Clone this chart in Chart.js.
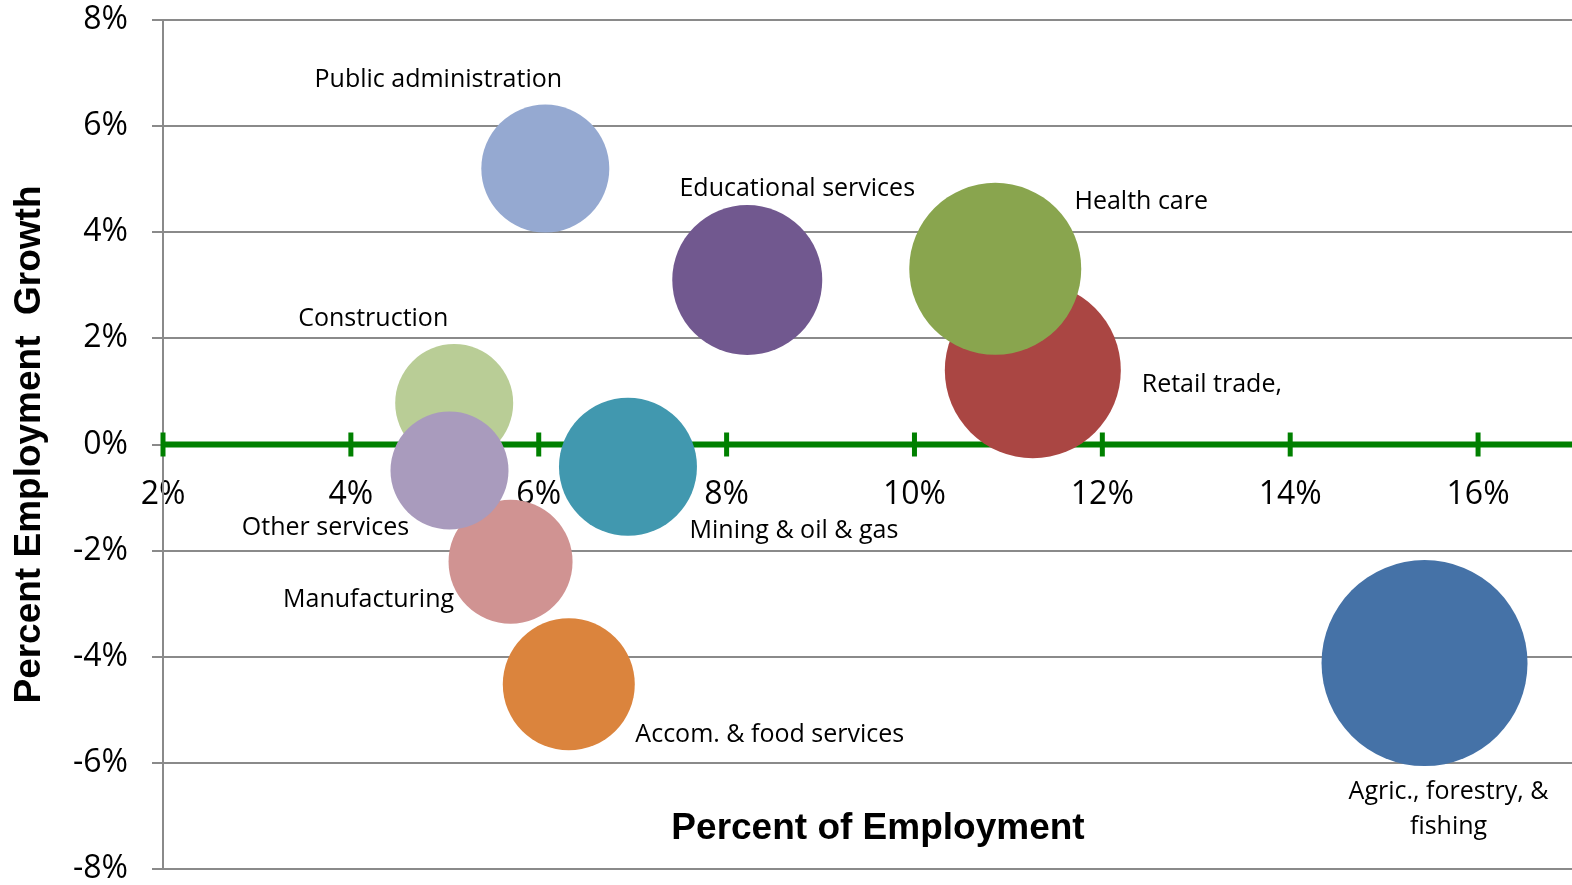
<!DOCTYPE html>
<html>
<head>
<meta charset="utf-8">
<script src="https://cdn.jsdelivr.net/npm/chart.js@4.4.1/dist/chart.umd.min.js"></script>
<style>
  html, body { margin: 0; padding: 0; background: #fff; }
</style>
</head>
<body>
<canvas id="bubbleChart" width="1572" height="885"></canvas>
<script>
// industries, drawn in this order (later ones sit on top)
const industries = [
  "Construction",
  "Manufacturing",
  "Other services",
  "Retail trade,",
  "Health care",
  "Public administration",
  "Educational services",
  "Mining & oil & gas",
  "Accom. & food services",
  "Agric., forestry, &\nfishing",
];
const shareOfEmployment = [5.1, 5.7, 5.05, 11.26, 10.86, 6.07, 8.22, 6.95, 6.32, 15.43];
const employmentGrowth = [0.78, -2.21, -0.49, 1.4, 3.31, 5.2, 3.1, -0.42, -4.52, -4.12];
const bubbleSize = [59, 62, 59, 88, 86, 64, 75, 69, 66, 103];
const bubbleColors = [
  "#b9cd96", "#d09392", "#a99bbd", "#aa4643", "#89a54e",
  "#95a9d1", "#71588f", "#4198af", "#db843d", "#4572a7",
];
const xTicks = [2, 4, 6, 8, 10, 12, 14, 16];
const yTicks = [-8, -6, -4, -2, 0, 2, 4, 6, 8];

// label centre relative to bubble centre, px
const labelOffsets = [
  [-81, -84], [-142, 38], [-124, 57], [179, 15], [146, -67],
  [-107, -89], [50, -91], [166, 64], [201, 51], [24, 146],
];

const points = industries.map((name, i) => ({
  x: shareOfEmployment[i],
  y: employmentGrowth[i],
  r: bubbleSize[i],
}));

// green zero line with tick marks crossing it
const zeroAxis = {
  id: "zeroAxis",
  beforeDatasetsDraw(chart) {
    const { ctx, chartArea, scales } = chart;
    const y0 = scales.y.getPixelForValue(0);
    ctx.save();
    ctx.strokeStyle = "#008000";
    ctx.lineWidth = 6;
    ctx.beginPath();
    ctx.moveTo(chartArea.left, y0);
    ctx.lineTo(chartArea.right, y0);
    ctx.stroke();
    ctx.lineWidth = 5;
    xTicks.forEach((v) => {
      const x = scales.x.getPixelForValue(v);
      ctx.beginPath();
      ctx.moveTo(x, y0 - 12);
      ctx.lineTo(x, y0 + 12);
      ctx.stroke();
    });
    ctx.restore();
  },
};

const bubbleLabels = {
  id: "bubbleLabels",
  afterDatasetsDraw(chart) {
    const { ctx } = chart;
    const meta = chart.getDatasetMeta(0);
    ctx.save();
    ctx.fillStyle = "#000";
    ctx.textAlign = "center";
    ctx.textBaseline = "middle";
    ctx.font = "25px 'Open Sans'";
    meta.data.forEach((pt, i) => {
      const lines = industries[i].split("\n");
      const [dx, dy] = labelOffsets[i];
      lines.forEach((line, j) => {
        ctx.fillText(line, pt.x + dx, pt.y + dy + (j - (lines.length - 1) / 2) * 35);
      });
    });
    // x axis title sits low in the plot
    ctx.font = "bold 37px 'Liberation Sans', Arial";
    ctx.fillText("Percent of Employment", 878, 829);
    ctx.restore();
  },
};

new Chart(document.getElementById("bubbleChart"), {
  type: "bubble",
  data: {
    datasets: [
      {
        data: points,
        backgroundColor: bubbleColors,
        borderWidth: 0,
        hoverBorderWidth: 0,
        clip: false,
      },
    ],
  },
  options: {
    responsive: false,
    animation: false,
    layout: { autoPadding: false, padding: { top: 20, right: 0, bottom: 16, left: 0 } },
    plugins: {
      legend: { display: false },
      tooltip: { enabled: false },
    },
    scales: {
      x: {
        type: "linear",
        position: { y: 0 },
        min: 2,
        max: 17,
        afterBuildTicks: (scale) => {
          scale.ticks = xTicks.map((v) => ({ value: v }));
        },
        afterFit: (scale) => {
          scale.paddingLeft = 0;
          scale.paddingRight = 0;
        },
        ticks: {
          padding: 31,
          color: "#000",
          font: { family: "'Open Sans'", size: 32 },
          callback: (v) => v + "%",
          maxRotation: 0,
        },
        grid: { display: false, drawTicks: false },
        border: { display: false },
      },
      y: {
        type: "linear",
        min: -8,
        max: 8,
        afterBuildTicks: (scale) => {
          scale.ticks = yTicks.map((v) => ({ value: v }));
        },
        afterFit: (scale) => {
          scale.width = 163;
          scale.paddingTop = 0;
          scale.paddingBottom = 0;
        },
        ticks: {
          padding: 24,
          color: "#000",
          font: { family: "'Open Sans'", size: 32 },
          callback: (v) => v + "%",
        },
        grid: { color: "#8a8a8a", lineWidth: 2, tickLength: 11 },
        border: { color: "#8a8a8a", width: 2 },
        title: {
          display: true,
          text: "Percent Employment  Growth",
          color: "#000",
          font: { family: "'Liberation Sans', Arial", size: 37, weight: "bold" },
          padding: { top: 8, bottom: 0 },
        },
      },
    },
  },
  plugins: [zeroAxis, bubbleLabels],
});
</script>
</body>
</html>
